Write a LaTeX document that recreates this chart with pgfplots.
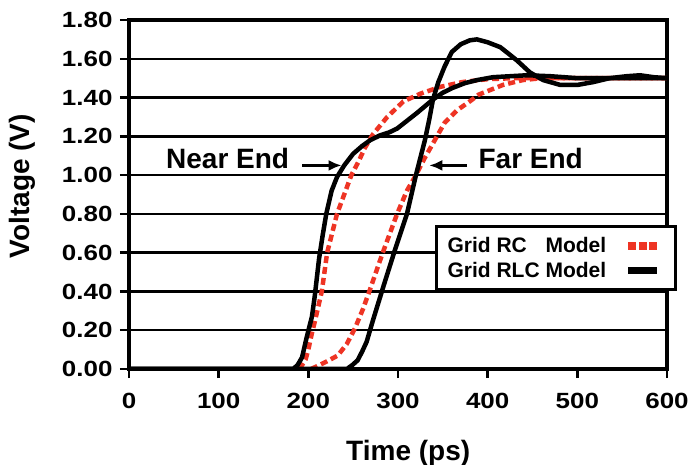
\documentclass[border=0pt]{standalone}
\usepackage{fontspec}
\setmainfont{Liberation Sans}
\newfontfamily\tickfont{Liberation Sans}[FakeStretch=1.18]
\usepackage{pgfplots}
\pgfplotsset{compat=1.18}
\usetikzlibrary{arrows.meta}
\definecolor{rcred}{RGB}{238,52,36}
\pgfplotsset{
  blacklegend/.style={legend image code/.code={\draw[##1, line width=7pt] (0pt,0pt) -- (29pt,0pt); \path (36pt,0pt);}},
  redlegend/.style={legend image code/.code={\draw[##1, line width=8pt, dash pattern=on 8pt off 2.5pt] (0pt,0pt) -- (29pt,0pt); \path (36pt,0pt);}}
}

\pgfplotstableread{
t v
0 0
183 0
188 0.02
193 0.06
198 0.16
204 0.27
207 0.37
212 0.57
216 0.69
220 0.80
226 0.92
232 0.99
240 1.05
250 1.11
260 1.15
269 1.18
280 1.205
290 1.22
299 1.24
310 1.28
321 1.32
330 1.355
339 1.39
350 1.425
361 1.45
375 1.475
388 1.49
406 1.505
425 1.51
444 1.515
470 1.51
500 1.50
600 1.50
}\rlcnear

\pgfplotstableread{
t v
0 0
243 0
249 0.02
255 0.045
260 0.09
265 0.14
272 0.25
278 0.34
284 0.43
297 0.62
310 0.80
316 0.92
320 1.00
325 1.09
330 1.18
335 1.29
339 1.39
345 1.48
352 1.56
360 1.635
370 1.675
380 1.695
388 1.70
400 1.685
414 1.66
425 1.62
433 1.59
447 1.53
462 1.49
481 1.465
500 1.465
518 1.48
536 1.50
555 1.51
570 1.515
585 1.505
600 1.50
}\rlcfar

\pgfplotstableread{
t v
190 0
193 0.02
197 0.05
200 0.10
204 0.185
207 0.24
213 0.36
215 0.40
221 0.60
232 0.80
240 0.90
248 1.00
256 1.07
263 1.14
272 1.21
288 1.30
306 1.38
325 1.42
347 1.455
372 1.48
400 1.495
430 1.50
600 1.50
}\rcnear

\pgfplotstableread{
t v
203 0
210 0.015
221 0.04
233 0.07
243 0.13
252 0.21
261 0.31
268 0.40
283 0.60
299 0.80
310 0.92
320 1.00
330 1.09
341 1.18
352 1.27
366 1.335
380 1.38
390 1.415
417 1.465
439 1.49
460 1.50
600 1.50
}\rcfar

\begin{document}
\begin{tikzpicture}
\path[use as bounding box] (-129pt,-96pt) rectangle (561pt,369pt);
\begin{axis}[
  scale only axis,
  width=538pt, height=349pt,
  xmin=0, xmax=600, ymin=0, ymax=1.8,
  xtick={0,100,200,300,400,500,600},
  ytick={0,0.2,0.4,0.6,0.8,1.0,1.2,1.4,1.6,1.8},
  xtick pos=left, ytick pos=left,
  tick align=outside,
  major tick length=9pt,
  tick style={black, line width=2.5pt},
  axis line style={black, line width=3.5pt},
  ymajorgrids,
  major grid style={black, line width=2.5pt},
  /pgf/number format/assume math mode=true,
  tick label style={font=\tickfont\bfseries\fontsize{22}{22}\selectfont},
  yticklabel style={/pgf/number format/.cd, fixed, fixed zerofill, precision=2, /tikz/.cd, xshift=-4pt},
  xticklabel style={yshift=-12pt},
  xlabel={Time (ps)}, ylabel={Voltage (V)},
  label style={font=\bfseries\fontsize{28}{28}\selectfont},
  xlabel style={at={(axis description cs:0.519,-0.24)}, anchor=center},
  ylabel style={at={(axis description cs:-0.199,0.524)}, anchor=center},
  legend style={at={(1.0186,0.413)}, anchor=north east, draw=black, line width=3pt,
    font=\bfseries\fontsize{21}{24}\selectfont, inner xsep=9pt, inner ysep=9pt,
    row sep=4pt,
    /tikz/every odd column/.append style={column sep=16pt}},
  legend cell align=left,
  legend plot pos=right,
  clip=true,
]
\addplot[rcred, line width=4.5pt, dash pattern=on 7pt off 4pt, redlegend] table[x=t,y=v] {\rcnear};
\addlegendentry{Grid RC\phantom{L} Model}
\addplot[rcred, line width=4.5pt, dash pattern=on 7pt off 4pt, forget plot] table[x=t,y=v] {\rcfar};
\addplot[black, line width=4.5pt, blacklegend] table[x=t,y=v] {\rlcnear};
\addlegendentry{Grid RLC Model}
\addplot[black, line width=4.5pt, forget plot] table[x=t,y=v] {\rlcfar};

\node[font=\bfseries\fontsize{28}{28}\selectfont] at (axis cs:110,1.088) {Near End};
\draw[line width=2.2pt, -{Latex[length=13pt,width=11pt]}] (axis cs:193,1.05) -- (axis cs:237,1.05);
\node[font=\bfseries\fontsize{28}{28}\selectfont] at (axis cs:448,1.088) {Far End};
\draw[line width=2.2pt, -{Latex[length=13pt,width=11pt]}] (axis cs:377,1.05) -- (axis cs:335,1.05);
\end{axis}
\end{tikzpicture}
\end{document}
